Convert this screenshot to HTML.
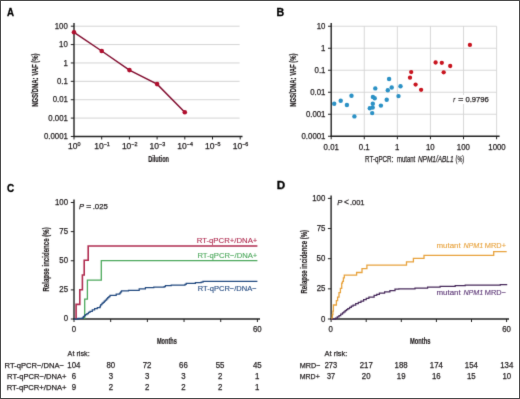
<!DOCTYPE html>
<html><head><meta charset="utf-8"><style>
html,body{margin:0;padding:0;background:#fff;}
svg{display:block;font-family:"Liberation Sans", sans-serif;}
</style></head><body>
<svg width="520" height="399" viewBox="0 0 520 399">
<rect width="520" height="399" fill="#fff"/>
<defs><filter id="bl" x="0" y="0" width="520" height="399" filterUnits="userSpaceOnUse" color-interpolation-filters="sRGB"><feConvolveMatrix order="3" kernelMatrix="0.0100 0.0800 0.0100 0.0800 0.6400 0.0800 0.0100 0.0800 0.0100" divisor="1" edgeMode="duplicate" preserveAlpha="true"/></filter></defs>
<g filter="url(#bl)">
<rect width="520" height="399" fill="#fff"/>
<text x="7.06" y="15.80" font-size="11" fill="#000" font-weight="bold" textLength="7.01" lengthAdjust="spacingAndGlyphs" stroke="#000" stroke-width="0.3">A</text>
<text x="276.61" y="16.20" font-size="11" fill="#000" font-weight="bold" textLength="7.70" lengthAdjust="spacingAndGlyphs" stroke="#000" stroke-width="0.3">B</text>
<text x="6.90" y="191.90" font-size="11" fill="#000" font-weight="bold" textLength="7.17" lengthAdjust="spacingAndGlyphs" stroke="#000" stroke-width="0.3">C</text>
<text x="276.84" y="188.70" font-size="11" fill="#000" font-weight="bold" textLength="8.45" lengthAdjust="spacingAndGlyphs" stroke="#000" stroke-width="0.3">D</text>
<line x1="74.00" y1="26.20" x2="239.60" y2="26.20" stroke="#cfcfcf" stroke-width="0.9"/>
<line x1="74.00" y1="44.58" x2="239.60" y2="44.58" stroke="#cfcfcf" stroke-width="0.9"/>
<line x1="74.00" y1="62.96" x2="239.60" y2="62.96" stroke="#cfcfcf" stroke-width="0.9"/>
<line x1="74.00" y1="81.34" x2="239.60" y2="81.34" stroke="#cfcfcf" stroke-width="0.9"/>
<line x1="74.00" y1="99.72" x2="239.60" y2="99.72" stroke="#cfcfcf" stroke-width="0.9"/>
<line x1="74.00" y1="118.10" x2="239.60" y2="118.10" stroke="#cfcfcf" stroke-width="0.9"/>
<line x1="74.00" y1="23.00" x2="74.00" y2="137.08" stroke="#222222" stroke-width="1.4"/>
<line x1="73.40" y1="136.48" x2="242.50" y2="136.48" stroke="#222222" stroke-width="1.4"/>
<line x1="70.80" y1="26.20" x2="74.00" y2="26.20" stroke="#222222" stroke-width="1.0"/>
<text x="54.75" y="28.75" font-size="8.5" fill="#231f20" textLength="13.05" lengthAdjust="spacingAndGlyphs" stroke="#231f20" stroke-width="0.25">100</text>
<line x1="70.80" y1="44.58" x2="74.00" y2="44.58" stroke="#222222" stroke-width="1.0"/>
<text x="59.09" y="47.13" font-size="8.5" fill="#231f20" textLength="8.70" lengthAdjust="spacingAndGlyphs" stroke="#231f20" stroke-width="0.25">10</text>
<line x1="70.80" y1="62.96" x2="74.00" y2="62.96" stroke="#222222" stroke-width="1.0"/>
<text x="63.51" y="65.51" font-size="8.5" fill="#231f20" textLength="4.35" lengthAdjust="spacingAndGlyphs" stroke="#231f20" stroke-width="0.25">1</text>
<line x1="70.80" y1="81.34" x2="74.00" y2="81.34" stroke="#222222" stroke-width="1.0"/>
<text x="56.98" y="83.89" font-size="8.5" fill="#231f20" textLength="10.87" lengthAdjust="spacingAndGlyphs" stroke="#231f20" stroke-width="0.25">0.1</text>
<line x1="70.80" y1="99.72" x2="74.00" y2="99.72" stroke="#222222" stroke-width="1.0"/>
<text x="52.64" y="102.27" font-size="8.5" fill="#231f20" textLength="15.22" lengthAdjust="spacingAndGlyphs" stroke="#231f20" stroke-width="0.25">0.01</text>
<line x1="70.80" y1="118.10" x2="74.00" y2="118.10" stroke="#222222" stroke-width="1.0"/>
<text x="48.30" y="120.65" font-size="8.5" fill="#231f20" textLength="19.57" lengthAdjust="spacingAndGlyphs" stroke="#231f20" stroke-width="0.25">0.001</text>
<line x1="70.80" y1="136.48" x2="74.00" y2="136.48" stroke="#222222" stroke-width="1.0"/>
<text x="43.92" y="139.03" font-size="8.5" fill="#231f20" textLength="23.92" lengthAdjust="spacingAndGlyphs" stroke="#231f20" stroke-width="0.25">0.0001</text>
<line x1="74.00" y1="136.48" x2="74.00" y2="139.48" stroke="#222222" stroke-width="1.0"/>
<text x="74.30" y="149.08" font-size="8.5" text-anchor="middle" fill="#231f20" stroke="#231f20" stroke-width="0.25">10<tspan font-size="5.4" dy="-3">0</tspan></text>
<line x1="101.70" y1="136.48" x2="101.70" y2="139.48" stroke="#222222" stroke-width="1.0"/>
<text x="102.00" y="149.08" font-size="8.5" text-anchor="middle" fill="#231f20" stroke="#231f20" stroke-width="0.25">10<tspan font-size="5.4" dy="-3">&#8722;1</tspan></text>
<line x1="129.40" y1="136.48" x2="129.40" y2="139.48" stroke="#222222" stroke-width="1.0"/>
<text x="129.70" y="149.08" font-size="8.5" text-anchor="middle" fill="#231f20" stroke="#231f20" stroke-width="0.25">10<tspan font-size="5.4" dy="-3">&#8722;2</tspan></text>
<line x1="157.10" y1="136.48" x2="157.10" y2="139.48" stroke="#222222" stroke-width="1.0"/>
<text x="157.40" y="149.08" font-size="8.5" text-anchor="middle" fill="#231f20" stroke="#231f20" stroke-width="0.25">10<tspan font-size="5.4" dy="-3">&#8722;3</tspan></text>
<line x1="184.80" y1="136.48" x2="184.80" y2="139.48" stroke="#222222" stroke-width="1.0"/>
<text x="185.10" y="149.08" font-size="8.5" text-anchor="middle" fill="#231f20" stroke="#231f20" stroke-width="0.25">10<tspan font-size="5.4" dy="-3">&#8722;4</tspan></text>
<line x1="212.50" y1="136.48" x2="212.50" y2="139.48" stroke="#222222" stroke-width="1.0"/>
<text x="212.80" y="149.08" font-size="8.5" text-anchor="middle" fill="#231f20" stroke="#231f20" stroke-width="0.25">10<tspan font-size="5.4" dy="-3">&#8722;5</tspan></text>
<line x1="240.20" y1="136.48" x2="240.20" y2="139.48" stroke="#222222" stroke-width="1.0"/>
<text x="240.50" y="149.08" font-size="8.5" text-anchor="middle" fill="#231f20" stroke="#231f20" stroke-width="0.25">10<tspan font-size="5.4" dy="-3">&#8722;6</tspan></text>
<text x="148.13" y="161.90" font-size="8.8" fill="#231f20" font-weight="bold" textLength="20.91" lengthAdjust="spacingAndGlyphs" stroke="#231f20" stroke-width="0.2">Dilution</text>
<text transform="translate(38.20,106.79) rotate(-90)" font-size="8.2" fill="#231f20" font-weight="bold" textLength="53.36" lengthAdjust="spacingAndGlyphs" stroke="#231f20" stroke-width="0.2">NGS/DNA: VAF (%)</text>
<polyline points="74.00,32.30 101.70,51.00 129.40,70.10 157.10,84.10 184.80,112.30" fill="none" stroke="#820e30" stroke-width="1.5" stroke-linejoin="miter"/>
<circle cx="74.00" cy="32.30" r="2.3" fill="#b00f2e"/>
<circle cx="101.70" cy="51.00" r="2.3" fill="#b00f2e"/>
<circle cx="129.40" cy="70.10" r="2.3" fill="#b00f2e"/>
<circle cx="157.10" cy="84.10" r="2.3" fill="#b00f2e"/>
<circle cx="184.80" cy="112.30" r="2.3" fill="#b00f2e"/>
<line x1="331.20" y1="26.25" x2="496.60" y2="26.25" stroke="#d4d4d4" stroke-width="0.9"/>
<line x1="331.20" y1="48.25" x2="496.60" y2="48.25" stroke="#d4d4d4" stroke-width="0.9"/>
<line x1="331.20" y1="70.25" x2="496.60" y2="70.25" stroke="#d4d4d4" stroke-width="0.9"/>
<line x1="331.20" y1="92.25" x2="496.60" y2="92.25" stroke="#d4d4d4" stroke-width="0.9"/>
<line x1="331.20" y1="114.25" x2="496.60" y2="114.25" stroke="#d4d4d4" stroke-width="0.9"/>
<line x1="364.28" y1="26.25" x2="364.28" y2="136.25" stroke="#d4d4d4" stroke-width="0.9"/>
<line x1="397.36" y1="26.25" x2="397.36" y2="136.25" stroke="#d4d4d4" stroke-width="0.9"/>
<line x1="430.44" y1="26.25" x2="430.44" y2="136.25" stroke="#d4d4d4" stroke-width="0.9"/>
<line x1="463.52" y1="26.25" x2="463.52" y2="136.25" stroke="#d4d4d4" stroke-width="0.9"/>
<line x1="496.60" y1="26.25" x2="496.60" y2="136.25" stroke="#d4d4d4" stroke-width="0.9"/>
<line x1="331.20" y1="23.00" x2="331.20" y2="136.85" stroke="#222222" stroke-width="1.4"/>
<line x1="330.60" y1="136.25" x2="499.60" y2="136.25" stroke="#222222" stroke-width="1.4"/>
<line x1="328.00" y1="26.25" x2="331.20" y2="26.25" stroke="#222222" stroke-width="1.0"/>
<text x="316.69" y="28.80" font-size="8.5" fill="#231f20" textLength="8.70" lengthAdjust="spacingAndGlyphs" stroke="#231f20" stroke-width="0.25">10</text>
<line x1="328.00" y1="48.25" x2="331.20" y2="48.25" stroke="#222222" stroke-width="1.0"/>
<text x="321.11" y="50.80" font-size="8.5" fill="#231f20" textLength="4.35" lengthAdjust="spacingAndGlyphs" stroke="#231f20" stroke-width="0.25">1</text>
<line x1="328.00" y1="70.25" x2="331.20" y2="70.25" stroke="#222222" stroke-width="1.0"/>
<text x="314.58" y="72.80" font-size="8.5" fill="#231f20" textLength="10.87" lengthAdjust="spacingAndGlyphs" stroke="#231f20" stroke-width="0.25">0.1</text>
<line x1="328.00" y1="92.25" x2="331.20" y2="92.25" stroke="#222222" stroke-width="1.0"/>
<text x="310.24" y="94.80" font-size="8.5" fill="#231f20" textLength="15.22" lengthAdjust="spacingAndGlyphs" stroke="#231f20" stroke-width="0.25">0.01</text>
<line x1="328.00" y1="114.25" x2="331.20" y2="114.25" stroke="#222222" stroke-width="1.0"/>
<text x="305.90" y="116.80" font-size="8.5" fill="#231f20" textLength="19.57" lengthAdjust="spacingAndGlyphs" stroke="#231f20" stroke-width="0.25">0.001</text>
<line x1="328.00" y1="136.25" x2="331.20" y2="136.25" stroke="#222222" stroke-width="1.0"/>
<text x="301.52" y="138.80" font-size="8.5" fill="#231f20" textLength="23.92" lengthAdjust="spacingAndGlyphs" stroke="#231f20" stroke-width="0.25">0.0001</text>
<line x1="331.20" y1="136.25" x2="331.20" y2="139.25" stroke="#222222" stroke-width="1.0"/>
<text x="323.61" y="149.50" font-size="8.5" fill="#231f20" textLength="15.22" lengthAdjust="spacingAndGlyphs" stroke="#231f20" stroke-width="0.25">0.01</text>
<line x1="364.28" y1="136.25" x2="364.28" y2="139.25" stroke="#222222" stroke-width="1.0"/>
<text x="358.86" y="149.50" font-size="8.5" fill="#231f20" textLength="10.87" lengthAdjust="spacingAndGlyphs" stroke="#231f20" stroke-width="0.25">0.1</text>
<line x1="397.36" y1="136.25" x2="397.36" y2="139.25" stroke="#222222" stroke-width="1.0"/>
<text x="395.07" y="149.50" font-size="8.5" fill="#231f20" textLength="4.35" lengthAdjust="spacingAndGlyphs" stroke="#231f20" stroke-width="0.25">1</text>
<line x1="430.44" y1="136.25" x2="430.44" y2="139.25" stroke="#222222" stroke-width="1.0"/>
<text x="425.94" y="149.50" font-size="8.5" fill="#231f20" textLength="8.70" lengthAdjust="spacingAndGlyphs" stroke="#231f20" stroke-width="0.25">10</text>
<line x1="463.52" y1="136.25" x2="463.52" y2="139.25" stroke="#222222" stroke-width="1.0"/>
<text x="456.85" y="149.50" font-size="8.5" fill="#231f20" textLength="13.05" lengthAdjust="spacingAndGlyphs" stroke="#231f20" stroke-width="0.25">100</text>
<line x1="496.60" y1="136.25" x2="496.60" y2="139.25" stroke="#222222" stroke-width="1.0"/>
<text x="488.34" y="149.50" font-size="8.5" fill="#231f20" textLength="17.40" lengthAdjust="spacingAndGlyphs" stroke="#231f20" stroke-width="0.25">1000</text>
<text x="365.00" y="161.90" font-size="9.6" fill="#231f20" textLength="28.38" lengthAdjust="spacingAndGlyphs" stroke="#231f20" stroke-width="0.25">RT-qPCR:</text>
<text x="396.91" y="161.90" font-size="9.6" fill="#231f20" textLength="18.33" lengthAdjust="spacingAndGlyphs" stroke="#231f20" stroke-width="0.25">mutant</text>
<text x="417.91" y="161.90" font-size="9.6" fill="#231f20" font-style="italic" textLength="35.66" lengthAdjust="spacingAndGlyphs" stroke="#231f20" stroke-width="0.25">NPM1/ABL1</text>
<text x="455.57" y="161.90" font-size="9.6" fill="#231f20" textLength="8.59" lengthAdjust="spacingAndGlyphs" stroke="#231f20" stroke-width="0.25">(%)</text>
<text transform="translate(295.90,106.78) rotate(-90)" font-size="8.2" fill="#231f20" font-weight="bold" textLength="53.16" lengthAdjust="spacingAndGlyphs" stroke="#231f20" stroke-width="0.2">NGS/DNA: VAF (%)</text>
<rect x="451" y="95" width="40" height="9" fill="#fff"/>
<text x="453.31" y="102.30" font-size="8" fill="#231f20" font-style="italic" textLength="1.90" lengthAdjust="spacingAndGlyphs" stroke="#231f20" stroke-width="0.25">r</text>
<text x="458.23" y="102.30" font-size="8.8" fill="#231f20" textLength="5.14" lengthAdjust="spacingAndGlyphs" stroke="#231f20" stroke-width="0.25">=</text>
<text x="465.39" y="102.30" font-size="8" fill="#231f20" textLength="23.50" lengthAdjust="spacingAndGlyphs" stroke="#231f20" stroke-width="0.25">0.9796</text>
<circle cx="334.20" cy="103.70" r="2.2" fill="#2b91c5"/>
<circle cx="340.70" cy="100.70" r="2.2" fill="#2b91c5"/>
<circle cx="346.90" cy="105.00" r="2.2" fill="#2b91c5"/>
<circle cx="351.50" cy="95.70" r="2.2" fill="#2b91c5"/>
<circle cx="354.40" cy="116.40" r="2.2" fill="#2b91c5"/>
<circle cx="389.10" cy="79.00" r="2.2" fill="#2b91c5"/>
<circle cx="400.50" cy="86.30" r="2.2" fill="#2b91c5"/>
<circle cx="391.70" cy="87.50" r="2.2" fill="#2b91c5"/>
<circle cx="375.30" cy="88.40" r="2.2" fill="#2b91c5"/>
<circle cx="387.80" cy="90.30" r="2.2" fill="#2b91c5"/>
<circle cx="398.50" cy="96.10" r="2.2" fill="#2b91c5"/>
<circle cx="372.90" cy="96.90" r="2.2" fill="#2b91c5"/>
<circle cx="374.70" cy="98.30" r="2.2" fill="#2b91c5"/>
<circle cx="386.70" cy="99.80" r="2.2" fill="#2b91c5"/>
<circle cx="372.80" cy="103.80" r="2.2" fill="#2b91c5"/>
<circle cx="380.90" cy="105.60" r="2.2" fill="#2b91c5"/>
<circle cx="372.70" cy="107.60" r="2.2" fill="#2b91c5"/>
<circle cx="369.80" cy="108.20" r="2.2" fill="#2b91c5"/>
<circle cx="372.20" cy="113.10" r="2.2" fill="#2b91c5"/>
<circle cx="469.90" cy="44.90" r="2.15" fill="#c8141e"/>
<circle cx="435.60" cy="62.50" r="2.15" fill="#c8141e"/>
<circle cx="441.80" cy="62.80" r="2.15" fill="#c8141e"/>
<circle cx="450.20" cy="66.00" r="2.15" fill="#c8141e"/>
<circle cx="443.70" cy="72.30" r="2.15" fill="#c8141e"/>
<circle cx="411.20" cy="72.10" r="2.15" fill="#c8141e"/>
<circle cx="410.00" cy="77.70" r="2.15" fill="#c8141e"/>
<circle cx="415.60" cy="84.60" r="2.15" fill="#c8141e"/>
<circle cx="421.10" cy="89.80" r="2.15" fill="#c8141e"/>
<line x1="74.00" y1="199.50" x2="74.00" y2="319.60" stroke="#222222" stroke-width="1.4"/>
<line x1="73.40" y1="319.00" x2="260.00" y2="319.00" stroke="#222222" stroke-width="1.4"/>
<line x1="70.80" y1="319.00" x2="74.00" y2="319.00" stroke="#222222" stroke-width="1.0"/>
<text x="63.63" y="321.45" font-size="8.5" fill="#231f20" textLength="4.35" lengthAdjust="spacingAndGlyphs" stroke="#231f20" stroke-width="0.25">0</text>
<line x1="70.80" y1="289.88" x2="74.00" y2="289.88" stroke="#222222" stroke-width="1.0"/>
<text x="59.33" y="292.32" font-size="8.5" fill="#231f20" textLength="8.70" lengthAdjust="spacingAndGlyphs" stroke="#231f20" stroke-width="0.25">25</text>
<line x1="70.80" y1="260.75" x2="74.00" y2="260.75" stroke="#222222" stroke-width="1.0"/>
<text x="59.29" y="263.20" font-size="8.5" fill="#231f20" textLength="8.70" lengthAdjust="spacingAndGlyphs" stroke="#231f20" stroke-width="0.25">50</text>
<line x1="70.80" y1="231.62" x2="74.00" y2="231.62" stroke="#222222" stroke-width="1.0"/>
<text x="59.33" y="234.07" font-size="8.5" fill="#231f20" textLength="8.70" lengthAdjust="spacingAndGlyphs" stroke="#231f20" stroke-width="0.25">75</text>
<line x1="70.80" y1="202.50" x2="74.00" y2="202.50" stroke="#222222" stroke-width="1.0"/>
<text x="54.95" y="204.95" font-size="8.5" fill="#231f20" textLength="13.05" lengthAdjust="spacingAndGlyphs" stroke="#231f20" stroke-width="0.25">100</text>
<line x1="74.00" y1="319.00" x2="74.00" y2="322.00" stroke="#222222" stroke-width="1.0"/>
<line x1="110.68" y1="319.00" x2="110.68" y2="322.00" stroke="#222222" stroke-width="1.0"/>
<line x1="147.36" y1="319.00" x2="147.36" y2="322.00" stroke="#222222" stroke-width="1.0"/>
<line x1="184.04" y1="319.00" x2="184.04" y2="322.00" stroke="#222222" stroke-width="1.0"/>
<line x1="220.72" y1="319.00" x2="220.72" y2="322.00" stroke="#222222" stroke-width="1.0"/>
<line x1="257.40" y1="319.00" x2="257.40" y2="322.00" stroke="#222222" stroke-width="1.0"/>
<text x="71.71" y="331.80" font-size="8.5" fill="#231f20" textLength="4.35" lengthAdjust="spacingAndGlyphs" stroke="#231f20" stroke-width="0.25">0</text>
<text x="253.00" y="331.70" font-size="8.5" fill="#231f20" textLength="8.70" lengthAdjust="spacingAndGlyphs" stroke="#231f20" stroke-width="0.25">60</text>
<text x="156.93" y="344.00" font-size="8.5" fill="#231f20" font-weight="bold" textLength="19.99" lengthAdjust="spacingAndGlyphs" stroke="#231f20" stroke-width="0.2">Months</text>
<text transform="translate(49.40,291.60) rotate(-90)" font-size="8.4" fill="#231f20" font-weight="bold" textLength="64.30" lengthAdjust="spacingAndGlyphs" stroke="#231f20" stroke-width="0.2">Relapse incidence (%)</text>
<text x="79.07" y="208.80" font-size="8" fill="#231f20" font-style="italic" textLength="5.08" lengthAdjust="spacingAndGlyphs" stroke="#231f20" stroke-width="0.25">P</text>
<text x="86.18" y="208.80" font-size="8.6" fill="#231f20" textLength="5.02" lengthAdjust="spacingAndGlyphs" stroke="#231f20" stroke-width="0.25">=</text>
<text x="92.70" y="208.80" font-size="8" fill="#231f20" textLength="15.23" lengthAdjust="spacingAndGlyphs" stroke="#231f20" stroke-width="0.25">.025</text>
<polyline points="76.10,319.00 76.10,304.40 79.80,304.40 79.80,289.70 82.40,289.70 82.40,275.00 84.20,275.00 84.20,260.30 88.20,260.30 88.20,246.00 257.40,246.00" fill="none" stroke="#b02c50" stroke-width="1.6" stroke-linejoin="miter"/>
<polyline points="84.70,319.00 84.70,299.20 87.40,299.20 87.40,280.10 101.30,280.10 101.30,260.70 257.40,260.70" fill="none" stroke="#4ca85c" stroke-width="1.3" stroke-linejoin="miter"/>
<polyline points="74.00,319.00 78.00,319.00 78.00,319.00 78.00,319.00 78.00,318.40 82.30,318.40 82.30,317.80 83.33,317.80 83.33,316.73 84.37,316.73 84.37,315.67 85.40,315.67 85.40,314.60 86.93,314.60 86.93,313.53 88.47,313.53 88.47,312.47 90.00,312.47 90.00,311.40 92.30,311.40 92.30,309.95 94.60,309.95 94.60,308.50 97.30,308.50 97.30,307.55 100.00,307.55 100.00,306.60 100.40,306.60 100.40,305.60 100.80,305.60 100.80,304.60 101.95,304.60 101.95,303.45 103.10,303.45 103.10,302.30 104.25,302.30 104.25,301.15 105.40,301.15 105.40,300.00 106.55,300.00 106.55,298.85 107.70,298.85 107.70,297.70 108.85,297.70 108.85,296.55 110.00,296.55 110.00,295.40 116.20,295.40 116.20,294.20 119.20,294.20 119.20,293.80 119.97,293.80 119.97,292.80 120.73,292.80 120.73,291.80 121.50,291.80 121.50,290.80 128.50,290.80 128.50,290.30 139.20,290.30 139.20,288.80 145.40,288.80 145.40,287.60 153.80,287.60 153.80,287.20 164.20,287.20 164.20,286.60 165.40,286.60 165.40,285.70 171.20,285.70 171.20,285.00 185.00,285.00 185.00,284.30 186.20,284.30 186.20,283.40 195.40,283.40 195.40,282.50 201.20,282.50 201.20,282.00 203.00,282.00 203.00,281.30 257.40,281.30 257.40,281.30" fill="none" stroke="#234a80" stroke-width="1.25" stroke-linejoin="miter"/>
<text x="196.68" y="242.90" font-size="8" fill="#b02c50" textLength="60.69" lengthAdjust="spacingAndGlyphs" stroke="#b02c50" stroke-width="0.12">RT-qPCR+/DNA+</text>
<text x="197.39" y="258.00" font-size="8" fill="#4ca85c" textLength="59.98" lengthAdjust="spacingAndGlyphs" stroke="#4ca85c" stroke-width="0.12">RT-qPCR&#8722;/DNA+</text>
<text x="197.80" y="291.30" font-size="8" fill="#234a80" textLength="58.86" lengthAdjust="spacingAndGlyphs" stroke="#234a80" stroke-width="0.12">RT-qPCR&#8722;/DNA&#8722;</text>
<text x="67.60" y="356.00" font-size="7.9" fill="#231f20" textLength="22.05" lengthAdjust="spacingAndGlyphs" stroke="#231f20" stroke-width="0.25">At risk:</text>
<text x="4.59" y="367.70" font-size="7.9" fill="#231f20" textLength="59.37" lengthAdjust="spacingAndGlyphs" stroke="#231f20" stroke-width="0.25">RT-qPCR&#8722;/DNA&#8722;</text>
<text x="67.36" y="367.70" font-size="8.5" fill="#231f20" textLength="13.05" lengthAdjust="spacingAndGlyphs" stroke="#231f20" stroke-width="0.25">104</text>
<text x="106.42" y="367.70" font-size="8.5" fill="#231f20" textLength="8.70" lengthAdjust="spacingAndGlyphs" stroke="#231f20" stroke-width="0.25">80</text>
<text x="142.76" y="367.70" font-size="8.5" fill="#231f20" textLength="8.70" lengthAdjust="spacingAndGlyphs" stroke="#231f20" stroke-width="0.25">72</text>
<text x="179.12" y="367.70" font-size="8.5" fill="#231f20" textLength="8.70" lengthAdjust="spacingAndGlyphs" stroke="#231f20" stroke-width="0.25">66</text>
<text x="215.76" y="367.70" font-size="8.5" fill="#231f20" textLength="8.70" lengthAdjust="spacingAndGlyphs" stroke="#231f20" stroke-width="0.25">55</text>
<text x="252.94" y="367.70" font-size="8.5" fill="#231f20" textLength="8.70" lengthAdjust="spacingAndGlyphs" stroke="#231f20" stroke-width="0.25">45</text>
<text x="7.09" y="379.00" font-size="7.9" fill="#231f20" textLength="59.47" lengthAdjust="spacingAndGlyphs" stroke="#231f20" stroke-width="0.25">RT-qPCR&#8722;/DNA+</text>
<text x="71.79" y="379.00" font-size="8.5" fill="#231f20" textLength="4.35" lengthAdjust="spacingAndGlyphs" stroke="#231f20" stroke-width="0.25">6</text>
<text x="108.63" y="379.00" font-size="8.5" fill="#231f20" textLength="4.35" lengthAdjust="spacingAndGlyphs" stroke="#231f20" stroke-width="0.25">3</text>
<text x="144.93" y="379.00" font-size="8.5" fill="#231f20" textLength="4.35" lengthAdjust="spacingAndGlyphs" stroke="#231f20" stroke-width="0.25">3</text>
<text x="181.33" y="379.00" font-size="8.5" fill="#231f20" textLength="4.35" lengthAdjust="spacingAndGlyphs" stroke="#231f20" stroke-width="0.25">3</text>
<text x="217.93" y="379.00" font-size="8.5" fill="#231f20" textLength="4.35" lengthAdjust="spacingAndGlyphs" stroke="#231f20" stroke-width="0.25">2</text>
<text x="254.91" y="379.00" font-size="8.5" fill="#231f20" textLength="4.35" lengthAdjust="spacingAndGlyphs" stroke="#231f20" stroke-width="0.25">1</text>
<text x="6.69" y="390.20" font-size="7.9" fill="#231f20" textLength="59.88" lengthAdjust="spacingAndGlyphs" stroke="#231f20" stroke-width="0.25">RT-qPCR+/DNA+</text>
<text x="71.83" y="390.20" font-size="8.5" fill="#231f20" textLength="4.35" lengthAdjust="spacingAndGlyphs" stroke="#231f20" stroke-width="0.25">9</text>
<text x="108.63" y="390.20" font-size="8.5" fill="#231f20" textLength="4.35" lengthAdjust="spacingAndGlyphs" stroke="#231f20" stroke-width="0.25">2</text>
<text x="144.93" y="390.20" font-size="8.5" fill="#231f20" textLength="4.35" lengthAdjust="spacingAndGlyphs" stroke="#231f20" stroke-width="0.25">2</text>
<text x="181.33" y="390.20" font-size="8.5" fill="#231f20" textLength="4.35" lengthAdjust="spacingAndGlyphs" stroke="#231f20" stroke-width="0.25">2</text>
<text x="217.93" y="390.20" font-size="8.5" fill="#231f20" textLength="4.35" lengthAdjust="spacingAndGlyphs" stroke="#231f20" stroke-width="0.25">2</text>
<text x="254.91" y="390.20" font-size="8.5" fill="#231f20" textLength="4.35" lengthAdjust="spacingAndGlyphs" stroke="#231f20" stroke-width="0.25">1</text>
<line x1="331.10" y1="195.50" x2="331.10" y2="319.60" stroke="#222222" stroke-width="1.4"/>
<line x1="330.50" y1="319.00" x2="509.00" y2="319.00" stroke="#222222" stroke-width="1.4"/>
<line x1="327.90" y1="319.00" x2="331.10" y2="319.00" stroke="#222222" stroke-width="1.0"/>
<text x="320.93" y="321.50" font-size="8.5" fill="#231f20" textLength="4.35" lengthAdjust="spacingAndGlyphs" stroke="#231f20" stroke-width="0.25">0</text>
<line x1="327.90" y1="288.85" x2="331.10" y2="288.85" stroke="#222222" stroke-width="1.0"/>
<text x="316.63" y="291.35" font-size="8.5" fill="#231f20" textLength="8.70" lengthAdjust="spacingAndGlyphs" stroke="#231f20" stroke-width="0.25">25</text>
<line x1="327.90" y1="258.70" x2="331.10" y2="258.70" stroke="#222222" stroke-width="1.0"/>
<text x="316.59" y="261.20" font-size="8.5" fill="#231f20" textLength="8.70" lengthAdjust="spacingAndGlyphs" stroke="#231f20" stroke-width="0.25">50</text>
<line x1="327.90" y1="228.55" x2="331.10" y2="228.55" stroke="#222222" stroke-width="1.0"/>
<text x="316.63" y="231.05" font-size="8.5" fill="#231f20" textLength="8.70" lengthAdjust="spacingAndGlyphs" stroke="#231f20" stroke-width="0.25">75</text>
<line x1="327.90" y1="198.40" x2="331.10" y2="198.40" stroke="#222222" stroke-width="1.0"/>
<text x="312.25" y="200.90" font-size="8.5" fill="#231f20" textLength="13.05" lengthAdjust="spacingAndGlyphs" stroke="#231f20" stroke-width="0.25">100</text>
<line x1="331.10" y1="319.00" x2="331.10" y2="322.00" stroke="#222222" stroke-width="1.0"/>
<line x1="366.20" y1="319.00" x2="366.20" y2="322.00" stroke="#222222" stroke-width="1.0"/>
<line x1="401.30" y1="319.00" x2="401.30" y2="322.00" stroke="#222222" stroke-width="1.0"/>
<line x1="436.40" y1="319.00" x2="436.40" y2="322.00" stroke="#222222" stroke-width="1.0"/>
<line x1="471.50" y1="319.00" x2="471.50" y2="322.00" stroke="#222222" stroke-width="1.0"/>
<line x1="506.60" y1="319.00" x2="506.60" y2="322.00" stroke="#222222" stroke-width="1.0"/>
<text x="328.56" y="331.90" font-size="8.5" fill="#231f20" textLength="4.35" lengthAdjust="spacingAndGlyphs" stroke="#231f20" stroke-width="0.25">0</text>
<text x="502.20" y="331.90" font-size="8.5" fill="#231f20" textLength="8.70" lengthAdjust="spacingAndGlyphs" stroke="#231f20" stroke-width="0.25">60</text>
<text x="410.03" y="344.20" font-size="8.8" fill="#231f20" font-weight="bold" textLength="20.50" lengthAdjust="spacingAndGlyphs" stroke="#231f20" stroke-width="0.2">Months</text>
<text transform="translate(306.90,293.49) rotate(-90)" font-size="8.7" fill="#231f20" font-weight="bold" textLength="63.59" lengthAdjust="spacingAndGlyphs" stroke="#231f20" stroke-width="0.2">Relapse incidence (%)</text>
<text x="337.17" y="204.80" font-size="8" fill="#231f20" font-style="italic" textLength="5.08" lengthAdjust="spacingAndGlyphs" stroke="#231f20" stroke-width="0.25">P</text>
<text x="344.04" y="204.80" font-size="8.4" fill="#231f20" textLength="4.91" lengthAdjust="spacingAndGlyphs" stroke="#231f20" stroke-width="0.25">&lt;</text>
<text x="349.92" y="204.80" font-size="8" fill="#231f20" textLength="14.62" lengthAdjust="spacingAndGlyphs" stroke="#231f20" stroke-width="0.25">.001</text>
<polyline points="331.10,319.00 331.70,319.00 331.70,318.20 332.40,318.20 332.40,314.60 332.90,314.60 332.90,311.10 333.40,311.10 333.40,305.00 336.40,305.00 336.40,300.60 337.60,300.60 337.60,297.10 339.00,297.10 339.00,292.70 340.40,292.70 340.40,288.30 341.70,288.30 341.70,283.10 342.50,283.10 342.50,281.30 343.40,281.30 343.40,277.80 344.30,277.80 344.30,275.20 356.60,275.20 356.60,272.50 362.00,272.50 362.00,268.70 366.90,268.70 366.90,265.20 406.50,265.20 406.50,261.80 413.40,261.80 413.40,258.30 424.00,258.30 424.00,255.30 493.70,255.30 493.70,251.60 506.70,251.60" fill="none" stroke="#e8a23c" stroke-width="1.3" stroke-linejoin="miter"/>
<polyline points="331.10,319.00 335.50,319.00 335.50,318.20 337.25,318.20 337.25,316.85 339.00,316.85 339.00,315.50 340.75,315.50 340.75,314.20 342.50,314.20 342.50,312.90 343.82,312.90 343.82,311.80 345.15,311.80 345.15,310.70 346.48,310.70 346.48,309.60 347.80,309.60 347.80,308.50 349.57,308.50 349.57,307.33 351.33,307.33 351.33,306.17 353.10,306.17 353.10,305.00 355.70,305.00 355.70,303.70 358.30,303.70 358.30,302.40 360.95,302.40 360.95,301.05 363.60,301.05 363.60,299.70 366.25,299.70 366.25,298.40 368.90,298.40 368.90,297.10 374.10,297.10 374.10,295.40 376.75,295.40 376.75,294.30 379.40,294.30 379.40,293.20 384.60,293.20 384.60,291.80 389.90,291.80 389.90,290.60 395.00,290.60 395.00,289.20 398.80,289.20 398.80,288.90 415.00,288.90 415.00,288.10 427.60,288.10 427.60,287.10 440.10,287.10 440.10,286.40 455.20,286.40 455.20,285.60 465.20,285.60 465.20,285.20 490.30,285.20 490.30,285.20 500.30,285.20 500.30,284.60 506.60,284.60 506.60,284.10" fill="none" stroke="#46285a" stroke-width="1.25" stroke-linejoin="miter"/>
<text x="436.49" y="248.10" font-size="8" fill="#e8a23c" textLength="24.17" lengthAdjust="spacingAndGlyphs" stroke="#e8a23c" stroke-width="0.12">mutant</text>
<text x="463.39" y="248.10" font-size="8" fill="#e8a23c" font-style="italic" textLength="19.85" lengthAdjust="spacingAndGlyphs" stroke="#e8a23c" stroke-width="0.12">NPM1</text>
<text x="484.81" y="248.10" font-size="8" fill="#e8a23c" textLength="21.17" lengthAdjust="spacingAndGlyphs" stroke="#e8a23c" stroke-width="0.12">MRD+</text>
<text x="436.49" y="295.10" font-size="8" fill="#5a3474" textLength="24.17" lengthAdjust="spacingAndGlyphs" stroke="#5a3474" stroke-width="0.12">mutant</text>
<text x="463.39" y="295.10" font-size="8" fill="#5a3474" font-style="italic" textLength="19.85" lengthAdjust="spacingAndGlyphs" stroke="#5a3474" stroke-width="0.12">NPM1</text>
<text x="484.81" y="295.10" font-size="8" fill="#5a3474" textLength="21.17" lengthAdjust="spacingAndGlyphs" stroke="#5a3474" stroke-width="0.12">MRD&#8722;</text>
<text x="324.60" y="356.00" font-size="8.0" fill="#231f20" textLength="22.78" lengthAdjust="spacingAndGlyphs" stroke="#231f20" stroke-width="0.25">At risk:</text>
<text x="299.82" y="368.10" font-size="7.9" fill="#231f20" textLength="20.65" lengthAdjust="spacingAndGlyphs" stroke="#231f20" stroke-width="0.25">MRD&#8722;</text>
<text x="324.73" y="368.10" font-size="8.5" fill="#231f20" textLength="12.39" lengthAdjust="spacingAndGlyphs" stroke="#231f20" stroke-width="0.25">273</text>
<text x="359.74" y="368.10" font-size="8.5" fill="#231f20" textLength="13.05" lengthAdjust="spacingAndGlyphs" stroke="#231f20" stroke-width="0.25">217</text>
<text x="394.60" y="368.10" font-size="8.5" fill="#231f20" textLength="13.05" lengthAdjust="spacingAndGlyphs" stroke="#231f20" stroke-width="0.25">188</text>
<text x="429.81" y="368.10" font-size="8.5" fill="#231f20" textLength="13.05" lengthAdjust="spacingAndGlyphs" stroke="#231f20" stroke-width="0.25">174</text>
<text x="464.81" y="368.10" font-size="8.5" fill="#231f20" textLength="13.05" lengthAdjust="spacingAndGlyphs" stroke="#231f20" stroke-width="0.25">154</text>
<text x="500.21" y="368.10" font-size="8.5" fill="#231f20" textLength="13.05" lengthAdjust="spacingAndGlyphs" stroke="#231f20" stroke-width="0.25">134</text>
<text x="299.64" y="379.20" font-size="7.9" fill="#231f20" textLength="20.12" lengthAdjust="spacingAndGlyphs" stroke="#231f20" stroke-width="0.25">MRD+</text>
<text x="326.91" y="379.20" font-size="8.5" fill="#231f20" textLength="8.07" lengthAdjust="spacingAndGlyphs" stroke="#231f20" stroke-width="0.25">37</text>
<text x="361.85" y="379.20" font-size="8.5" fill="#231f20" textLength="8.70" lengthAdjust="spacingAndGlyphs" stroke="#231f20" stroke-width="0.25">20</text>
<text x="396.79" y="379.20" font-size="8.5" fill="#231f20" textLength="8.70" lengthAdjust="spacingAndGlyphs" stroke="#231f20" stroke-width="0.25">19</text>
<text x="432.02" y="379.20" font-size="8.5" fill="#231f20" textLength="8.70" lengthAdjust="spacingAndGlyphs" stroke="#231f20" stroke-width="0.25">16</text>
<text x="467.02" y="379.20" font-size="8.5" fill="#231f20" textLength="8.70" lengthAdjust="spacingAndGlyphs" stroke="#231f20" stroke-width="0.25">15</text>
<text x="502.40" y="379.20" font-size="8.5" fill="#231f20" textLength="8.70" lengthAdjust="spacingAndGlyphs" stroke="#231f20" stroke-width="0.25">10</text>
</g>
<rect x="0.5" y="0.5" width="519" height="398" fill="none" stroke="#4a4a4a" stroke-width="1"/>
</svg></body></html>
